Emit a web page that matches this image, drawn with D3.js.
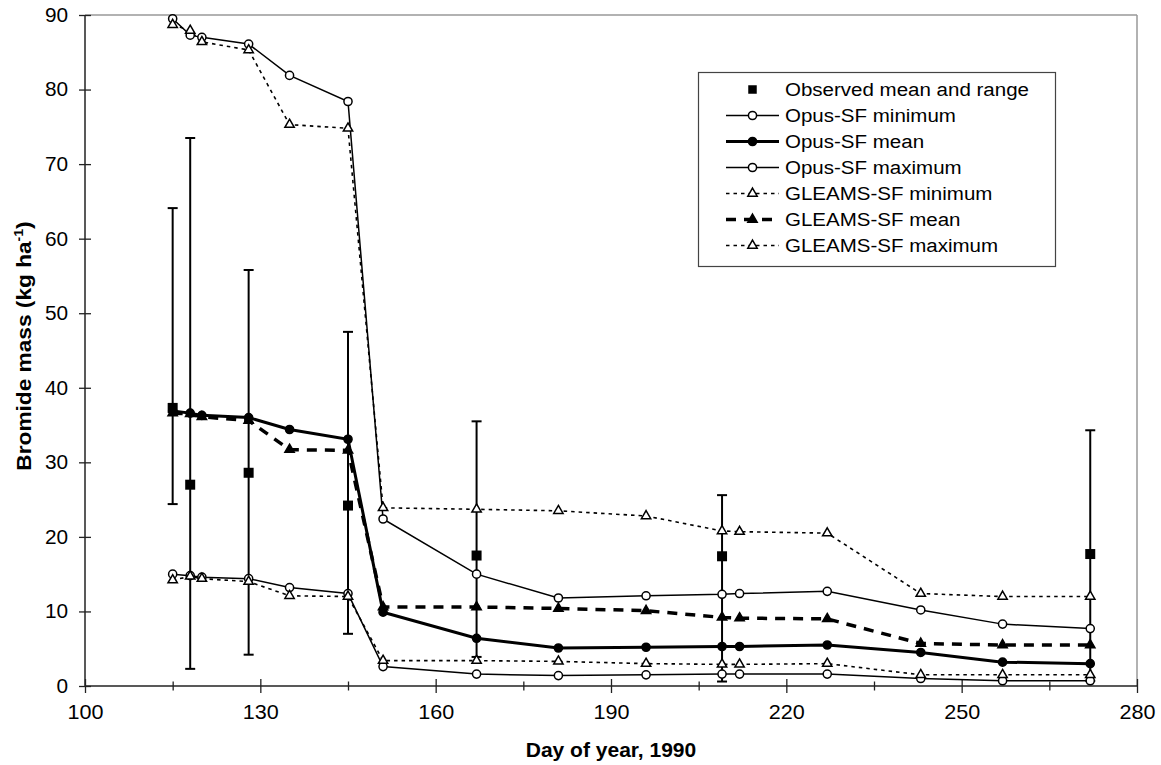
<!DOCTYPE html>
<html>
<head>
<meta charset="utf-8">
<script src="https://cdnjs.cloudflare.com/ajax/libs/d3/7.8.5/d3.min.js"></script>
<style>
  body { margin: 0; background: #fff; }
  svg { display: block; font-family: "Liberation Sans", Arial, sans-serif; }
</style>
</head>
<body>
<svg id="chart"></svg>
<script>
// sampling days of the simulated series
const days = [115, 118, 120, 128, 135, 145, 151, 167, 181, 196, 209, 212, 227, 243, 257, 272];
const opusMin = [15.0, 14.8, 14.6, 14.4, 13.2, 12.4, 2.6, 1.6, 1.4, 1.5, 1.6, 1.6, 1.6, 1.0, 0.7, 0.7];
const opusMean = [36.9, 36.6, 36.3, 36.0, 34.4, 33.1, 9.9, 6.4, 5.1, 5.2, 5.3, 5.3, 5.5, 4.5, 3.2, 3.0];
const opusMax = [89.5, 87.3, 87.0, 86.1, 81.9, 78.4, 22.4, 15.0, 11.8, 12.1, 12.3, 12.4, 12.7, 10.2, 8.3, 7.7];
const gleamsMin = [14.2, 14.7, 14.4, 14.0, 12.1, 12.0, 3.4, 3.4, 3.3, 3.0, 2.9, 2.9, 3.0, 1.5, 1.5, 1.5];
const gleamsMean = [36.6, 36.5, 36.1, 35.6, 31.7, 31.6, 10.6, 10.6, 10.4, 10.1, 9.2, 9.1, 9.0, 5.7, 5.5, 5.5];
const gleamsMax = [88.7, 87.9, 86.4, 85.3, 75.3, 74.8, 23.9, 23.7, 23.5, 22.8, 20.8, 20.7, 20.5, 12.4, 12.0, 12.0];

// observed mean and range
const obsDays = [115, 118, 128, 145, 167, 209, 272];
const obsMean = [37.3, 27.0, 28.6, 24.2, 17.5, 17.4, 17.7];
const obsLow = [24.4, 2.3, 4.2, 7.0, 3.9, 0.6, 0.7];
const obsHigh = [64.1, 73.5, 55.8, 47.5, 35.5, 25.6, 34.3];

const xTicks = d3.range(100, 281, 15);
const yTicks = d3.range(0, 91, 10);

const width = 1161, height = 765;
const svg = d3.select("#chart").attr("width", width).attr("height", height);

const x = d3.scaleLinear().domain([100, 280]).range([85, 1137]);
const y = d3.scaleLinear().domain([0, 90]).range([686, 15]);

// stretch text a little horizontally around its anchor point
function stretch(sel, k) {
    sel.each(function () {
        const t = d3.select(this);
        const tx = +t.attr("x") || 0, ty = +t.attr("y") || 0;
        t.attr("transform", `translate(${tx},${ty}) scale(${k},1) translate(${-tx},${-ty})`);
    });
}

// plot frame (top and right in grey)
svg.append("line").attr("x1", x(100)).attr("x2", x(280)).attr("y1", y(90)).attr("y2", y(90))
    .attr("stroke", "#999").attr("stroke-width", 1.5);
svg.append("line").attr("x1", x(280)).attr("x2", x(280)).attr("y1", y(90)).attr("y2", y(0))
    .attr("stroke", "#999").attr("stroke-width", 1.5);

// axes
const yAxis = svg.append("g")
    .attr("transform", `translate(${x(100)},0)`)
    .call(d3.axisLeft(y).tickValues(yTicks).tickSize(6).tickPadding(11));
yAxis.select(".domain").attr("stroke", "#222").attr("stroke-width", 1.5).attr("d", `M0,${y(90)}V${y(0)}`);
yAxis.selectAll(".tick line").attr("x1", 6).attr("stroke", "#222").attr("stroke-width", 1.3);
yAxis.selectAll(".tick text").attr("font-size", 20).attr("fill", "#000")
    .attr("font-family", "Liberation Sans, Arial, sans-serif");

const xAxis = svg.append("g")
    .attr("transform", `translate(0,${y(0)})`)
    .call(d3.axisBottom(x).tickValues(xTicks).tickSize(7).tickPadding(12)
        .tickFormat(d => d % 30 === 10 ? d : ""));
xAxis.select(".domain").attr("stroke", "#222").attr("stroke-width", 1.5).attr("d", `M${x(100)},0H${x(280)}`);
xAxis.selectAll(".tick line")
    .attr("y1", d => d % 30 === 10 ? -7 : -4.5)
    .attr("y2", d => d % 30 === 10 ? 7 : 4.5)
    .attr("stroke", "#222").attr("stroke-width", 1.3);
xAxis.selectAll(".tick text").attr("font-size", 20).attr("fill", "#000")
    .attr("font-family", "Liberation Sans, Arial, sans-serif");

stretch(yAxis.selectAll(".tick text"), 1.04);
stretch(xAxis.selectAll(".tick text"), 1.08);

// titles
svg.append("text").attr("x", 611).attr("y", 757).attr("text-anchor", "middle")
    .attr("font-size", 21).attr("font-weight", "bold").text("Day of year, 1990");

const yt = svg.append("text")
    .attr("transform", "translate(31,346) rotate(-90) scale(1.08,1)")
    .attr("text-anchor", "middle").attr("font-size", 21).attr("font-weight", "bold");
yt.append("tspan").text("Bromide mass (kg ha");
yt.append("tspan").attr("font-size", 13).attr("dy", -8).text("-1");
yt.append("tspan").attr("dy", 8).text(")");

// symbols
const circle = d3.symbol().type(d3.symbolCircle).size(52)();
const triangle = d3.symbol().type(d3.symbolTriangle).size(38)();
const square = d3.symbol().type(d3.symbolSquare).size(100)();

// observed error bars (behind the model series)
const obs = obsDays.map((d, i) => ({ day: d, mean: obsMean[i], lo: obsLow[i], hi: obsHigh[i] }));
const bars = svg.append("g").attr("stroke", "#000").attr("stroke-width", 2);
obs.forEach(o => {
    bars.append("line").attr("x1", x(o.day)).attr("x2", x(o.day)).attr("y1", y(o.lo)).attr("y2", y(o.hi));
    bars.append("line").attr("x1", x(o.day) - 5).attr("x2", x(o.day) + 5).attr("y1", y(o.hi)).attr("y2", y(o.hi));
    bars.append("line").attr("x1", x(o.day) - 5).attr("x2", x(o.day) + 5).attr("y1", y(o.lo)).attr("y2", y(o.lo));
});

const series = [
    { name: "Opus-SF minimum", values: opusMin, width: 1.5, dash: null, sym: circle, fill: "#fff" },
    { name: "Opus-SF mean", values: opusMean, width: 3, dash: null, sym: circle, fill: "#000" },
    { name: "Opus-SF maximum", values: opusMax, width: 1.5, dash: null, sym: circle, fill: "#fff" },
    { name: "GLEAMS-SF minimum", values: gleamsMin, width: 1.6, dash: "3.5,4", sym: triangle, fill: "#fff" },
    { name: "GLEAMS-SF mean", values: gleamsMean, width: 3.5, dash: "10,8", sym: triangle, fill: "#000" },
    { name: "GLEAMS-SF maximum", values: gleamsMax, width: 1.6, dash: "3.5,4", sym: triangle, fill: "#fff" }
];

const line = d3.line().x(d => x(d[0])).y(d => y(d[1]));

series.forEach(s => {
    const pts = days.map((d, i) => [d, s.values[i]]);
    svg.append("path").datum(pts)
        .attr("d", line)
        .attr("fill", "none")
        .attr("stroke", "#000")
        .attr("stroke-width", s.width)
        .attr("stroke-dasharray", s.dash);
});

series.forEach(s => {
    svg.append("g").selectAll("path")
        .data(days.map((d, i) => [d, s.values[i]]))
        .enter().append("path")
        .attr("d", s.sym)
        .attr("transform", d => `translate(${x(d[0])},${y(d[1])})`)
        .attr("fill", s.fill)
        .attr("stroke", "#000")
        .attr("stroke-width", 1.5);
});

// observed means on top
svg.append("g").selectAll("path")
    .data(obs).enter().append("path")
    .attr("d", square)
    .attr("transform", d => `translate(${x(d.day)},${y(d.mean)})`)
    .attr("fill", "#000");

// legend
const legend = svg.append("g");
legend.append("rect").attr("x", 698.5).attr("y", 72.5).attr("width", 357).attr("height", 194)
    .attr("fill", "#fff").attr("stroke", "#444").attr("stroke-width", 1.2);

const legendItems = [{ name: "Observed mean and range", obs: true }].concat(series);
legendItems.forEach((s, i) => {
    const cy = 89.5 + i * 26;
    const g = legend.append("g");
    if (s.obs) {
        g.append("path").attr("d", square).attr("fill", "#000")
            .attr("transform", `translate(752.5,${cy}) scale(0.85)`);
    } else {
        g.append("line").attr("x1", 726).attr("x2", 779).attr("y1", cy).attr("y2", cy)
            .attr("stroke", "#000").attr("stroke-width", s.width).attr("stroke-dasharray", s.dash);
        g.append("path").attr("d", s.sym).attr("transform", `translate(752.5,${cy})`)
            .attr("fill", s.fill).attr("stroke", "#000").attr("stroke-width", 1.5);
    }
    const t = g.append("text").attr("x", 785).attr("y", cy + 6.5).attr("font-size", 19).text(s.name);
    stretch(t, 1.08);
});
</script>
</body>
</html>
